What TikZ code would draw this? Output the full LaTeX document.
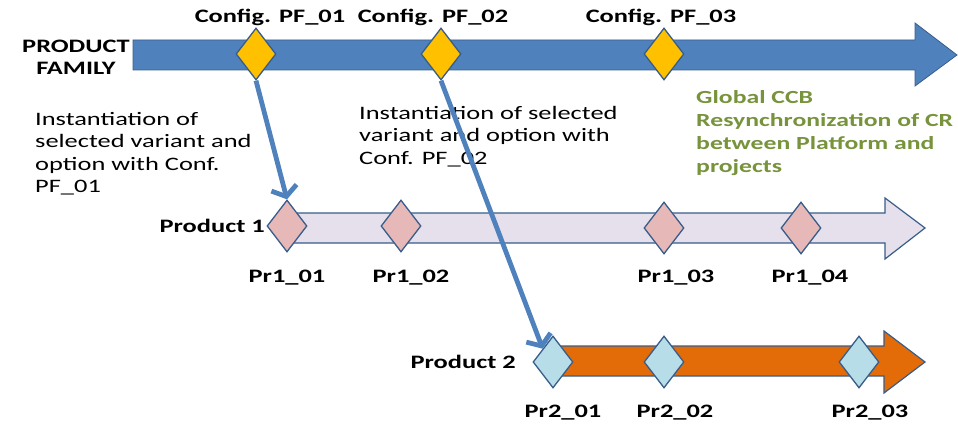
\documentclass[tikz,border=0pt]{standalone}
\usepackage{fontspec}
\setmainfont[FakeStretch=1.39]{Carlito}
\usetikzlibrary{shapes.geometric,arrows.meta}
\definecolor{famblue}{HTML}{4F81BD}
\definecolor{edgeblue}{HTML}{385D8A}
\definecolor{cfgyellow}{HTML}{FFC000}
\definecolor{prpink}{HTML}{E6B9B8}
\definecolor{prlav}{HTML}{E6E0EC}
\definecolor{prorange}{HTML}{E36C09}
\definecolor{prcyan}{HTML}{B7DEE8}
\definecolor{ccbgreen}{HTML}{77933C}
\tikzset{
  gem/.style={draw=edgeblue, line width=1.3pt, shape=diamond, inner sep=0pt,
    minimum width=40pt, minimum height=52pt},
  cfggem/.style={gem, fill=cfgyellow},
  p1gem/.style={gem, fill=prpink},
  p2gem/.style={gem, fill=prcyan},
  tag/.style={font=\fontsize{19}{22}\selectfont\bfseries, inner sep=0pt},
  note/.style={font=\fontsize{19}{22.5}\selectfont, align=left, inner sep=0pt, anchor=north west},
  conn/.style={draw=famblue, line width=4.8pt,
    -{Straight Barb[length=9pt,width=26pt,line width=4.8pt]}},
}
\begin{document}
\begin{tikzpicture}[x=1pt,y=-1pt]
\useasboundingbox (0,0) rectangle (958,425);

% timeline bands
\fill[famblue, draw=edgeblue, line width=0.8pt]
  (133,40) -- (915,40) -- (915,23) -- (957,55) -- (915,86) -- (915,70) -- (133,70) -- cycle;
\filldraw[fill=prlav, draw=edgeblue, line width=1.2pt]
  (287,213) -- (885,213) -- (885,198) -- (925,228) -- (885,259) -- (885,243) -- (287,243) -- cycle;
\filldraw[fill=prorange, draw=edgeblue, line width=1.2pt]
  (553,346) -- (884,346) -- (884,331) -- (925,362) -- (884,393) -- (884,376) -- (553,376) -- cycle;

% band titles
\node[tag, align=center] (famname) at (76,57) {PRODUCT\\FAMILY};
\node[tag, anchor=east] (p1name) at (265,226) {Product 1};
\node[tag, anchor=east] (p2name) at (516,362) {Product 2};

% configuration milestones
\node[cfggem] (pf1) at (256,54) {};
\node[cfggem] (pf2) at (441,54) {};
\node[cfggem] (pf3) at (664,54) {};
\node[tag] (pf1l) at (270,17) {Config. PF\_01};
\node[tag] (pf2l) at (433,17) {Config. PF\_02};
\node[tag] (pf3l) at (661,17) {Config. PF\_03};

% product 1 milestones
\node[p1gem] (p11) at (287,226) {};
\node[p1gem] (p12) at (401,226) {};
\node[p1gem] (p13) at (664,228) {};
\node[p1gem] (p14) at (801,228) {};
\node[tag] (p11l) at (287,278) {Pr1\_01};
\node[tag] (p12l) at (411,278) {Pr1\_02};
\node[tag] (p13l) at (676,278) {Pr1\_03};
\node[tag] (p14l) at (810,278) {Pr1\_04};

% product 2 milestones
\node[p2gem] (p21) at (553,362) {};
\node[p2gem] (p22) at (664,362) {};
\node[p2gem] (p23) at (859,362) {};
\node[tag] (p21l) at (563,413) {Pr2\_01};
\node[tag] (p22l) at (675,413) {Pr2\_02};
\node[tag] (p23l) at (870,413) {Pr2\_03};

% annotations
\node[note] (inst1) at (35,112) {Instantiation of\\selected variant and\\option with Conf.\\PF\_01};
\node[note] (inst2) at (359,106) {Instantiation of selected\\variant and option with\\Conf. PF\_02};
\node[note, font=\fontsize{18.5}{23}\selectfont\bfseries, text=ccbgreen] (ccb) at (696,90)
  {Global CCB\\Resynchronization of CR\\between Platform and\\projects};

% instantiation links
\draw[conn] (pf1.south) -- (p11.north);
\draw[conn] (pf2.south) -- (p21.north west);
\end{tikzpicture}
\end{document}
